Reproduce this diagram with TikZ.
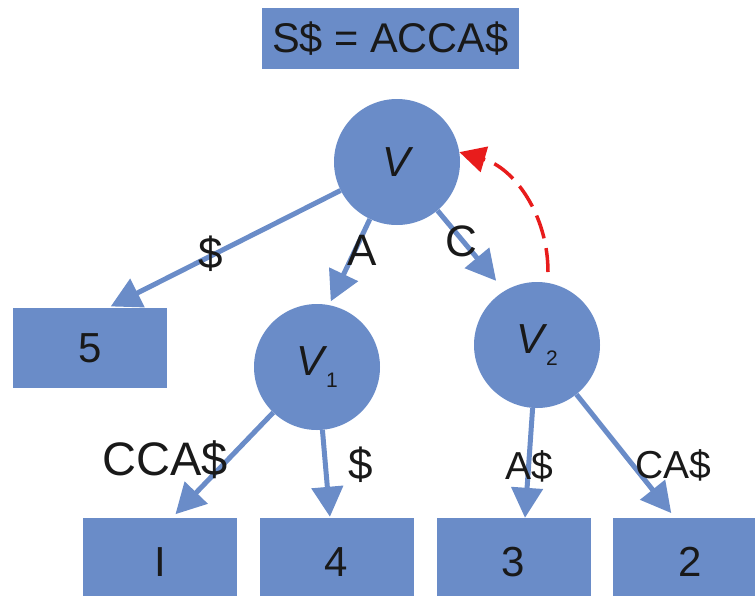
\documentclass[tikz,border=0pt]{standalone}
\usepackage{fontspec}
\setmainfont{Liberation Sans}
\usetikzlibrary{arrows.meta}
\definecolor{treeblue}{RGB}{106,140,200}
\definecolor{backred}{RGB}{232,28,28}
\definecolor{ink}{RGB}{25,25,25}
\newcommand\lowsub[1]{\kern0.04em\raisebox{-0.3em}{\upshape\fontsize{21}{21}\selectfont #1}}
\tikzset{
  treenode/.style={circle, fill=treeblue, minimum size=126pt, inner sep=0pt,
    text=ink, font=\fontsize{42}{42}\selectfont\itshape},
  leaf/.style={rectangle, fill=treeblue, minimum width=154pt, minimum height=80pt,
    inner sep=0pt, text=ink, font=\fontsize{42}{42}\selectfont},
  edge/.style={draw=treeblue, line width=5pt, -{Triangle[length=30pt,width=31pt]}},
  lbl/.style={text=ink, inner sep=0pt, anchor=base, font=\fontsize{44}{44}\selectfont},
  smalllbl/.style={lbl, font=\fontsize{39}{39}\selectfont},
  backlink/.style={draw=backred, line width=3.5pt, dash pattern=on 24pt off 10pt,
    -{Triangle[length=26pt,width=26pt]}}
}
\begin{document}
\begin{tikzpicture}[x=1pt,y=-1pt]
\useasboundingbox (0,0) rectangle (755,595);
\clip (0,0) rectangle (755,595);

% string header
\node[leaf, minimum width=257pt, minimum height=61pt, font=\fontsize{41.5}{41.5}\selectfont]
  (title) at (390.5,38.5) {S\$ = ACCA\$};

% internal nodes
\node[treenode] (V)  at (397,162) {V};
\node[treenode] (V1) at (317,367) {V\lowsub{1}};
\node[treenode] (V2) at (537,345) {V\lowsub{2}};

% leaves
\node[leaf] (b5) at (90,348) {5};
\node[leaf, minimum height=88pt] (bI) at (160,562) {I};
\node[leaf, minimum height=88pt] (b4) at (336.5,562) {4};
\node[leaf, minimum height=88pt] (b3) at (513.5,562) {3};
\node[leaf, minimum height=88pt] (b2) at (690,562) {2};

% tree edges
\draw[edge, shorten >=3pt]  (V) -- ([xshift=18pt]b5.north);
\draw[edge, shorten >=4pt]  (V) -- (V1.79);
\draw[edge, shorten >=13pt] (V) -- (V2.121);
\draw[edge, shorten >=5pt]  (V1) -- ([xshift=12pt]bI.north);
\draw[edge, shorten >=1pt]  (V1) -- ([xshift=-6.5pt]b4.north);
\draw[edge]                 (V2) -- ([xshift=11.5pt]b3.north);
\draw[edge, shorten >=6pt]  (V2) -- ([xshift=-15pt]b2.north);

% suffix link
\coordinate (loopfoot) at (548,272);
\draw[backlink] (loopfoot) .. controls +(0,-57) and +(55,16) .. (V.9);

% edge labels
\node[lbl] (l5) at (211,268) {\$};
\node[lbl] (lA) at (362,265) {A};
\node[lbl] (lC) at (461,256) {C};
\node[lbl, font=\fontsize{47}{47}\selectfont] (lCCA) at (165,475) {CCA\$};
\node[lbl] (l4) at (361,479) {\$};
\node[smalllbl] (lA3) at (529,479) {A\$};
\node[smalllbl] (lCA) at (673,478) {CA\$};
\end{tikzpicture}
\end{document}
